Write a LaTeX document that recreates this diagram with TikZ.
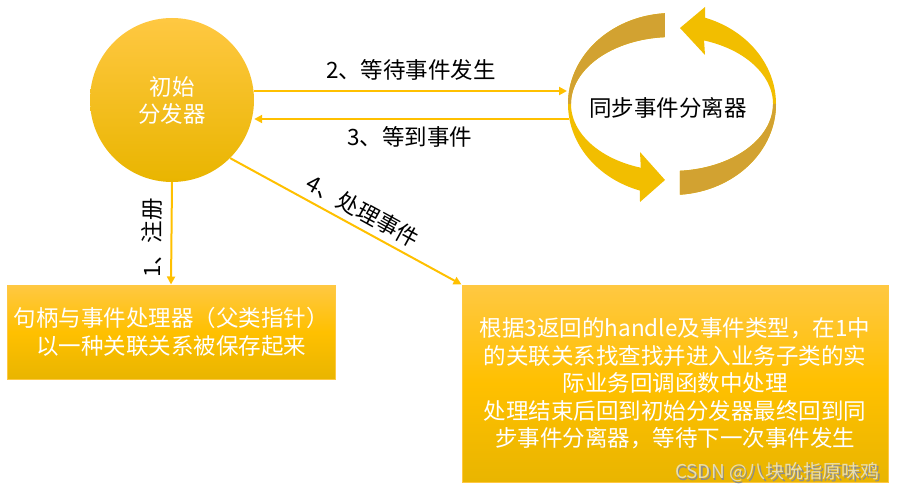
\documentclass[tikz,border=0pt]{standalone}
\usepackage{fontspec}
\setmainfont{Noto Sans CJK SC}
\usetikzlibrary{arrows.meta,shadings,calc}
\definecolor{gold}{HTML}{FFC000}
\definecolor{goldtop}{HTML}{FFC842}
\definecolor{goldbot}{HTML}{E9B500}
\definecolor{ringY}{HTML}{F2BE00}
\definecolor{ringB}{HTML}{D2A231}
\definecolor{wm}{HTML}{E8DDB0}
\tikzset{
  x=1pt,y=1pt,
  conn/.style={draw=gold,line width=2pt,-{Triangle[length=8pt,width=8pt]}},
  boxnode/.style={draw=goldtop,line width=1pt,top color=goldtop,bottom color=goldbot,middle color=gold,
     text=white,align=center,font=\fontsize{22.5}{28}\selectfont,inner sep=0pt},
  lbl/.style={text=black,font=\fontsize{22.5}{27}\selectfont,inner sep=0pt}
}
\begin{document}
\begin{tikzpicture}
\useasboundingbox (0,-494) rectangle (899,0);
% circle
\node[circle,minimum size=164pt,inner sep=0pt,shading=axis,top color=goldtop,middle color=gold,bottom color=goldbot,
  text=white,align=center,font=\fontsize{22.5}{27}\selectfont] (init) at (172,-100) {初始\\分发器};
% boxes
\node[boxnode,minimum width=328pt,minimum height=94pt] (reg) at (171,-332) {句柄与事件处理器（父类指针）\\以一种关联关系被保存起来};
\node[boxnode,minimum width=426pt,minimum height=197pt,font=\fontsize{22.5}{27.5}\selectfont] (proc) at (675,-383.5) {根据3返回的handle及事件类型，在1中\\的关联关系找查找并进入业务子类的实\\际业务回调函数中处理\\处理结束后回到初始分发器最终回到同\\步事件分离器，等待下一次事件发生};
% ring arrows
\coordinate (C) at (672,-104);
% arrow A (right)
\fill[ringY] ($(C)+(-85.6:104 and 91)$) arc[start angle=-85.6,end angle=71.5,x radius=104,y radius=91]
  -- (705,-7) -- (680,-28) -- (705,-55) -- ($(C)+(71.5:101 and 67)$)
  arc[start angle=71.5,end angle=-85.6,x radius=101,y radius=67] -- cycle;
\fill[ringB] ($(C)+(-85.6:104 and 91)$) arc[start angle=-85.6,end angle=0,x radius=104,y radius=91]
  -- ($(C)+(0:101 and 67)$) arc[start angle=0,end angle=-85.6,x radius=101,y radius=67] -- cycle;
% arrow B (left)
\fill[ringY] ($(C)+(94:104 and 91)$) arc[start angle=94,end angle=252,x radius=104,y radius=91]
  -- (640,-202) -- (665,-180) -- (640,-152) -- ($(C)+(252:101 and 67)$)
  arc[start angle=252,end angle=94,x radius=101,y radius=67] -- cycle;
\fill[ringB] ($(C)+(94:104 and 91)$) arc[start angle=94,end angle=180,x radius=104,y radius=91]
  -- ($(C)+(180:101 and 67)$) arc[start angle=180,end angle=94,x radius=101,y radius=67] -- cycle;
\node[lbl] (sync) at (668,-108) {同步事件分离器};
\coordinate (syncL1) at (567,-91);
\coordinate (syncL2) at (569,-119);
% connectors
\draw[conn] (init.east |- 0,-91) -- (syncL1);
\draw[conn] (syncL2) -- (init.east |- 0,-119);
\draw[conn] (init.south) -- (reg.north);
\draw[conn] (init.-45) -- (proc.north west);
% labels
\node[lbl] (l2) at (411,-70) {2、等待事件发生};
\node[lbl] (l3) at (410,-137) {3、等到事件};
\node[lbl,rotate=90] (l1) at (152,-238) {1、注册};
\node[lbl,rotate=-28.7] (l4) at (363,-211) {4、处理事件};
% watermark
\node[text=black!45,font=\fontsize{19}{19}\selectfont,inner sep=0pt] at (778.6,-473.6) {CSDN @八块吮指原味鸡};
\node[text=wm,font=\fontsize{19}{19}\selectfont,inner sep=0pt] (wmk) at (777.5,-472.5) {CSDN @八块吮指原味鸡};
\end{tikzpicture}
\end{document}
